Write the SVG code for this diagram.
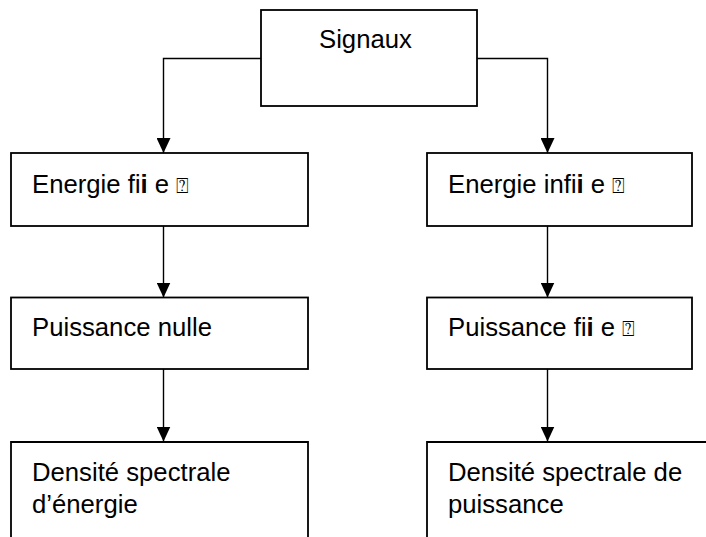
<svg xmlns="http://www.w3.org/2000/svg" width="706" height="537" viewBox="0 0 706 537">
  <defs>
    <marker id="arrow" markerUnits="userSpaceOnUse" markerWidth="15" markerHeight="14" refX="15" refY="7" orient="auto">
      <path d="M0,0 L15,7 L0,14 z" fill="#000"/>
    </marker>
    <style>
      .box { fill: #fff; stroke: #000; stroke-width: 1.8; }
      .open { fill: none; stroke: #000; stroke-width: 1.8; }
      .lbl { font-family: "Liberation Sans", Arial, sans-serif; font-size: 25.7px; fill: #000; }
      .q { font-family: "DejaVu Sans", sans-serif; font-size: 21px; }
      .edge { fill: none; stroke: #000; stroke-width: 1.4; marker-end: url(#arrow); }
    </style>
  </defs>
  <rect width="706" height="537" fill="#fff"/>

  <!-- connectors -->
  <g id="connectors">
    <path class="edge" d="M261,58.5 H163.5 V153"/>
    <path class="edge" d="M477,58.5 H547.5 V153"/>
    <path class="edge" d="M163.5,226 V297.5"/>
    <path class="edge" d="M547.5,226 V297.5"/>
    <path class="edge" d="M163.5,369 V441.5"/>
    <path class="edge" d="M547.5,369 V441.5"/>
  </g>

  <g id="signaux">
    <rect class="box" x="261" y="10" width="216" height="96"/>
    <text class="lbl" x="319" y="48">Signaux</text>
  </g>

  <g id="energie-finie">
    <rect class="box" x="11" y="153" width="297" height="73"/>
    <text class="lbl" x="32" y="193">Energie ﬁ<tspan font-weight="bold">i</tspan> e <tspan class="q">⍰</tspan></text>
  </g>

  <g id="energie-infinie">
    <rect class="box" x="427" y="153" width="265" height="73"/>
    <text class="lbl" x="448" y="193">Energie inﬁ<tspan font-weight="bold">i</tspan> e <tspan class="q">⍰</tspan></text>
  </g>

  <g id="puissance-nulle">
    <rect class="box" x="11" y="297.5" width="297" height="71.5"/>
    <text class="lbl" x="32" y="336">Puissance nulle</text>
  </g>

  <g id="puissance-finie">
    <rect class="box" x="427" y="297.5" width="265" height="71.5"/>
    <text class="lbl" x="448" y="336">Puissance ﬁ<tspan font-weight="bold">i</tspan> e <tspan class="q">⍰</tspan></text>
  </g>

  <g id="dse">
    <path class="open" d="M11,540 V442 H308 V540"/>
    <text class="lbl" x="32" y="481">Densité spectrale</text>
    <text class="lbl" x="32" y="513">d’énergie</text>
  </g>

  <g id="dsp">
    <path class="open" d="M427,540 V442 H710"/>
    <text class="lbl" x="448" y="481">Densité spectrale de</text>
    <text class="lbl" x="448" y="513">puissance</text>
  </g>
</svg>
